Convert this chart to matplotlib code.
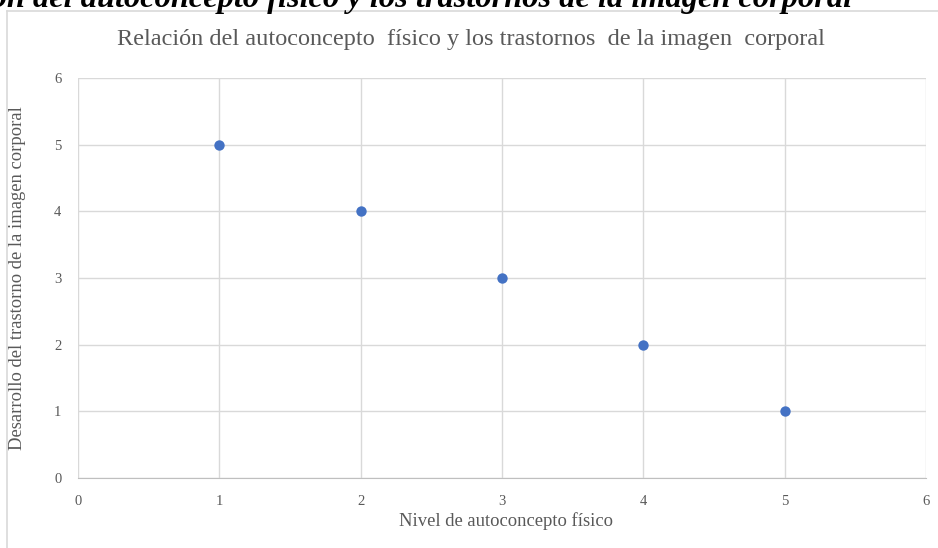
import matplotlib
matplotlib.use("Agg")
from matplotlib import pyplot as plt
from matplotlib.lines import Line2D

# datos
autoconcepto = [1, 2, 3, 4, 5]
trastorno = [5, 4, 3, 2, 1]
ticks = [0, 1, 2, 3, 4, 5, 6]

titulo = "Relación del autoconcepto  físico y los trastornos  de la imagen  corporal"
titulo_doc = "Relación del autoconcepto físico y los trastornos de la imagen corporal"

plt.rcParams['font.family'] = ['Liberation Serif', 'DejaVu Serif']

fig = plt.figure(figsize=(9.38, 5.48), dpi=100)
W, H = 938, 548

# titulo del documento, cortado arriba como en la captura
fig.text(852 / W, 1 - 7 / H, titulo_doc, ha='right', va='baseline',
         fontsize=23.3, fontweight='bold', fontstyle='italic', color='black')

# borde del grafico
fig.add_artist(Line2D([7 / W, 1], [1 - 11 / H, 1 - 11 / H], color='#D9D9D9', lw=1.2))
fig.add_artist(Line2D([7 / W, 7 / W], [0, 1 - 11 / H], color='#D9D9D9', lw=1.2))

ax = fig.add_axes([78 / W, 1 - 478 / H, (926 - 78) / W, (478 - 78) / H])
ax.scatter(autoconcepto, trastorno, s=56, color='#4472C4', zorder=3, linewidths=0)

ax.set_xlim(0, 6)
ax.set_ylim(0, 6)
ax.set_xticks(ticks)
ax.set_yticks(ticks)
ax.grid(True, color='#D9D9D9', lw=1)
for s in ['top', 'right', 'left']:
    ax.spines[s].set_visible(False)
ax.spines['bottom'].set_color('#BFBFBF')
ax.tick_params(length=0, labelsize=10.5, labelcolor='#595959', pad=12)

fig.text(471 / W, 1 - 40 / H, titulo, ha='center', va='center', fontsize=17.5, color='#595959')
fig.text(506 / W, 1 - 521 / H, 'Nivel de autoconcepto físico', ha='center', va='center',
         fontsize=13.4, color='#595959')
fig.text(18 / W, 1 - 278 / H, 'Desarrollo del trastorno de la imagen corporal', ha='center', va='center',
         rotation=90, fontsize=13.4, color='#595959')

fig.savefig('out.png', dpi=100)
